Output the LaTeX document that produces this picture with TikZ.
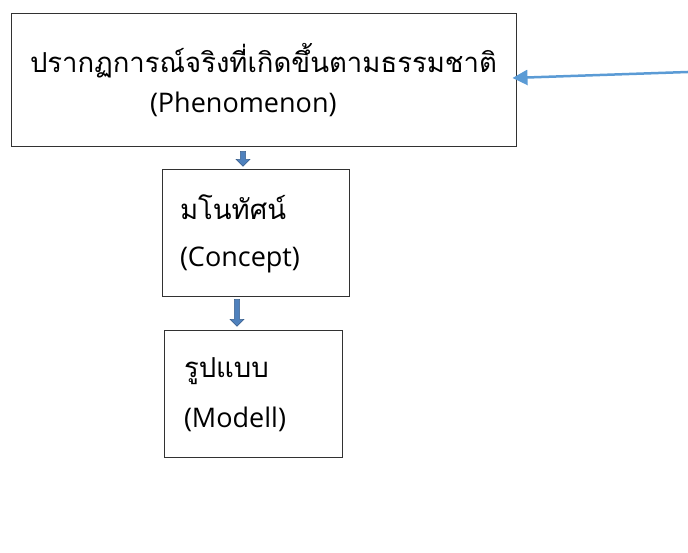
\documentclass[tikz,border=0pt]{standalone}
\usepackage{fontspec}
\setmainfont[Script=Thai]{Loma}
\newfontfamily\latinfont{Open Sans}
\usetikzlibrary{shapes.arrows, arrows.meta, positioning}
\definecolor{boxcol}{RGB}{50,50,50}
\definecolor{flowcol}{RGB}{79,129,189}
\definecolor{flowborder}{RGB}{56,93,138}
\definecolor{linkcol}{RGB}{91,155,213}
\newcommand{\en}[1]{{\latinfont\fontsize{27}{33}\selectfont #1}}

\begin{document}
\begin{tikzpicture}[
			x=1pt, y=1pt,
			box/.style={
				draw=boxcol,
				rectangle,
				line width=1pt,
				align=left,
				anchor=center,
				inner xsep=0pt,
				font=\fontsize{27.5}{33}\selectfont
			},
			blockarrow/.style={
				single arrow,
				draw=flowborder,
				fill=flowcol,
				line width=0.6pt,
				single arrow head extend=3pt,
				minimum width=14pt,
				inner sep=1.5pt,
				shape border rotate=270
			},
			link/.style={
				draw=linkcol,
				line width=2.5pt,
				-{Triangle[length=15pt,width=15pt]}
			}
			]
			\useasboundingbox (0,0) rectangle (688,553);
			% Boxes
			\node[box, minimum width=505pt, minimum height=133pt, text width=467pt]
				(phen) at (263.5,472.5)
				{ปรากฏการณ์จริงที่เกิดขึ้นตามธรรมชาติ\\[7pt]\hspace*{120pt}\en{(Phenomenon)}};
			\node[box, minimum width=187pt, minimum height=127pt, text width=151pt]
				(conc) at (255.5,319.5)
				{มโนทัศน์\\[14pt]\en{(Concept)}};
			\node[box, minimum width=178pt, minimum height=127pt, text width=138pt]
				(modl) at (253,158.5)
				{รูปแบบ\\[17pt]\en{(Modell)}};

			% Flow arrows
			\node[blockarrow, minimum height=15pt] (a1) at (243,395.5) {};
			\node[blockarrow, minimum height=27pt] (a2) at (237,241.5) {};

			% Incoming link
			\coordinate (src) at (688,481);
			\draw[link] (src) -- ([xshift=-4pt,yshift=2.5pt]phen.east);
		\end{tikzpicture}
\end{document}
